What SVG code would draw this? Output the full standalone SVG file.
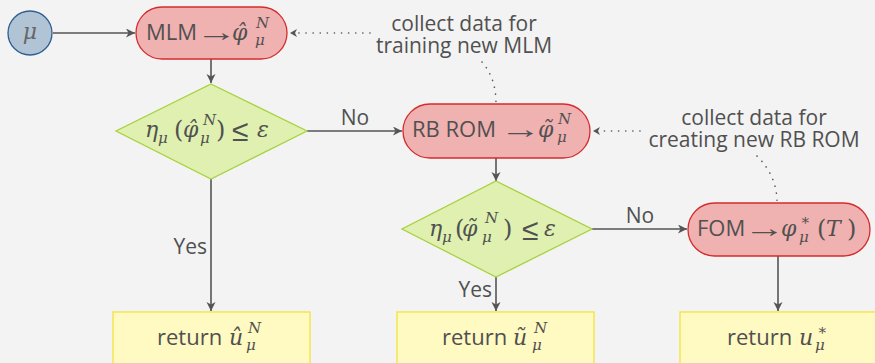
<svg xmlns="http://www.w3.org/2000/svg" width="875" height="363" viewBox="0 0 875 363">
  <defs>
    <marker id="arr" markerUnits="userSpaceOnUse" markerWidth="10" markerHeight="10" refX="9" refY="4.5" orient="auto">
      <path d="M0,0 L9,4.5 L0,9 L2.5,4.5 Z" fill="#555"/>
    </marker>
    <style>
      .bg { fill: #f3f3f3; }
      .start { fill: #b1c4d6; stroke: #2d5f90; stroke-width: 1.3; }
      .proc { fill: #f0b1b1; stroke: #d42c2c; stroke-width: 1.3; }
      .dec { fill: #dff0b0; stroke: #a8d23e; stroke-width: 1.3; }
      .out { fill: #fff9c2; stroke: #f3e33a; stroke-width: 1.3; }
      .edge { fill: none; stroke: #555; stroke-width: 1.6; marker-end: url(#arr); }
      .dots { fill: none; stroke: #555; stroke-width: 1.6; stroke-linecap: round; stroke-dasharray: 0.1 7; }
      .sans { font-family: "Open Sans", "Noto Sans", sans-serif; font-size: 22px; fill: #505050; }
      .lbl { font-family: "Open Sans", "Noto Sans", sans-serif; font-size: 21px; fill: #505050; }
      .mi { font-family: "DejaVu Serif", "Liberation Serif", serif; font-style: italic; font-size: 22px; fill: #505050; }
      .mo { font-family: "DejaVu Serif", "Liberation Serif", serif; font-size: 24px; fill: #505050; }
      .rel { font-family: "Liberation Sans", "DejaVu Sans", sans-serif; font-size: 26px; fill: #505050; }
      .le { font-family: "Liberation Sans", "DejaVu Sans", sans-serif; font-size: 30px; fill: #505050; }
      .sm { font-size: 15px; }
    </style>
  </defs>

  <rect class="bg" x="0" y="0" width="875" height="363"/>

  <!-- connectors -->
  <g id="connectors">
    <line class="edge" x1="53" y1="33" x2="135" y2="33"/>
    <line class="edge" x1="211" y1="59" x2="211" y2="83"/>
    <line class="edge" x1="307" y1="131" x2="402" y2="131"/>
    <line class="edge" x1="211" y1="179" x2="211" y2="311"/>
    <line class="edge" x1="496" y1="158" x2="496" y2="181"/>
    <line class="edge" x1="592" y1="229" x2="687" y2="229"/>
    <line class="edge" x1="496" y1="277" x2="496" y2="311"/>
    <line class="edge" x1="778" y1="256" x2="778" y2="311"/>
    <!-- dotted feedback links -->
    <line class="dots" x1="370" y1="33" x2="298" y2="33"/>
    <path d="M297,29 L290,33 L297,37 L295,33 Z" fill="#555"/>
    <line class="dots" x1="640" y1="131" x2="601" y2="131"/>
    <path d="M600,127 L593,131 L600,135 L598,131 Z" fill="#555"/>
    <path class="dots" d="M482,62 Q496,78 496,103"/>
    <path class="dots" d="M757,156 Q777,176 777,202"/>
    <text class="lbl" x="355" y="125" text-anchor="middle">No</text>
    <text class="lbl" x="640" y="223" text-anchor="middle">No</text>
    <text class="lbl" x="207" y="254" text-anchor="end">Yes</text>
    <text class="lbl" x="492" y="297" text-anchor="end">Yes</text>
  </g>

  <!-- input parameter -->
  <g id="mu">
    <circle class="start" cx="30" cy="33" r="22"/>
    <text class="mi" x="30" y="39" text-anchor="middle" style="fill:#666">μ</text>
  </g>

  <!-- machine-learning model -->
  <g id="mlm">
    <rect class="proc" x="136" y="7" width="151" height="52" rx="26"/>
    <text class="sans" x="146" y="40">MLM</text>
    <text class="rel" transform="translate(196,41) scale(1.6,1)">→</text>
    <text class="mi" x="232" y="40">φ̂</text>
    <text class="mi sm" x="256" y="28">N</text>
    <text class="mi sm" x="255" y="45">μ</text>
  </g>

  <!-- first error check -->
  <g id="check1">
    <polygon class="dec" points="211,84 307,131 211,179 116,131"/>
    <text class="mi" x="145" y="137">η</text>
    <text class="mi sm" x="158" y="143">μ</text>
    <text class="mo" x="174" y="138">(</text>
    <text class="mi" x="183" y="137">φ̂</text>
    <text class="mi sm" x="203" y="125">N</text>
    <text class="mi sm" x="200" y="143">μ</text>
    <text class="mo" x="216" y="138">)</text>
    <text class="le" x="232" y="141">≤</text>
    <text class="mi" x="257" y="137">ε</text>
  </g>

  <!-- reduced basis model -->
  <g id="rbrom">
    <rect class="proc" x="403" y="104" width="187" height="54" rx="27"/>
    <text class="sans" x="412" y="137">RB ROM</text>
    <text class="rel" transform="translate(500,138) scale(1.6,1)">→</text>
    <text class="mi" x="538" y="137">φ̃</text>
    <text class="mi sm" x="558" y="124">N</text>
    <text class="mi sm" x="557" y="142">μ</text>
  </g>

  <!-- second error check -->
  <g id="check2">
    <polygon class="dec" points="496,181 592,229 496,277 402,229"/>
    <text class="mi" x="429" y="236">η</text>
    <text class="mi sm" x="442" y="242">μ</text>
    <text class="mo" x="455" y="237">(</text>
    <text class="mi" x="462" y="236">φ̃</text>
    <text class="mi sm" x="485" y="223">N</text>
    <text class="mi sm" x="482" y="242">μ</text>
    <text class="mo" x="503" y="237">)</text>
    <text class="le" x="522" y="240">≤</text>
    <text class="mi" x="544" y="236">ε</text>
  </g>

  <!-- full order model -->
  <g id="fom">
    <rect class="proc" x="688" y="203" width="182" height="53" rx="26.5"/>
    <text class="sans" x="697" y="236">FOM</text>
    <text class="rel" transform="translate(744,237) scale(1.6,1)">→</text>
    <text class="mi" x="781" y="236">φ</text>
    <text class="mo sm" x="800" y="225">∗</text>
    <text class="mi sm" x="799" y="242">μ</text>
    <text class="mo" x="817" y="237">(</text>
    <text class="mi" x="826" y="236">T</text>
    <text class="mo" x="847" y="237">)</text>
  </g>

  <!-- outputs -->
  <g id="ret1">
    <rect class="out" x="113" y="312" width="197" height="60"/>
    <text class="sans" x="157" y="345">return</text>
    <text class="mi" x="229" y="345">û</text>
    <text class="mi sm" x="248" y="333">N</text>
    <text class="mi sm" x="246" y="350">μ</text>
  </g>
  <g id="ret2">
    <rect class="out" x="397" y="312" width="197" height="60"/>
    <text class="sans" x="442" y="345">return</text>
    <text class="mi" x="513" y="345">ũ</text>
    <text class="mi sm" x="534" y="333">N</text>
    <text class="mi sm" x="532" y="350">μ</text>
  </g>
  <g id="ret3">
    <rect class="out" x="680" y="312" width="210" height="60"/>
    <text class="sans" x="727" y="345">return</text>
    <text class="mi" x="799" y="345">u</text>
    <text class="mo sm" x="817" y="335">∗</text>
    <text class="mi sm" x="815" y="350">μ</text>
  </g>

  <!-- annotations -->
  <g id="note-mlm">
    <text class="lbl" x="464" y="31" text-anchor="middle">collect data for</text>
    <text class="lbl" x="464" y="53" text-anchor="middle">training new MLM</text>
  </g>
  <g id="note-rom">
    <text class="lbl" x="754" y="125" text-anchor="middle">collect data for</text>
    <text class="lbl" x="754" y="147" text-anchor="middle">creating new RB ROM</text>
  </g>
</svg>
